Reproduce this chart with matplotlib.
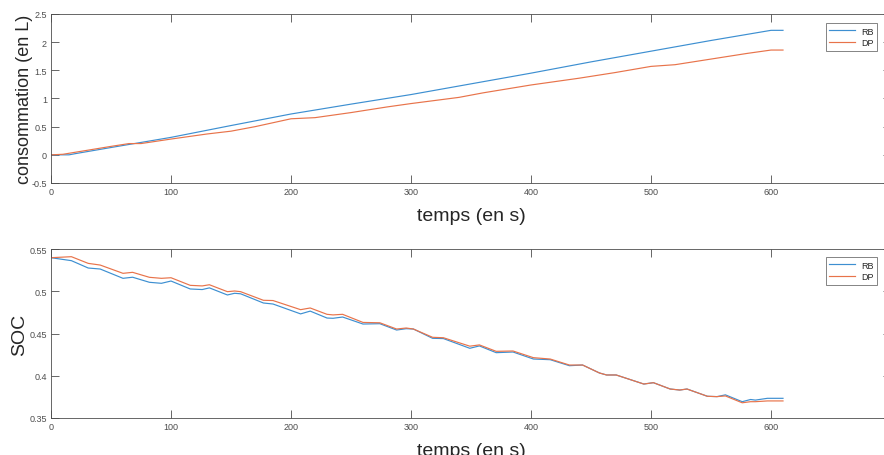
import numpy as np
import matplotlib
matplotlib.use('Agg')
import matplotlib.pyplot as plt
import matplotlib.ticker as mticker

plt.rcParams['font.family'] = ['Liberation Sans', 'DejaVu Sans']
plt.rcParams['axes.unicode_minus'] = False

# consommation (en L)
t_rb_c = [0, 10, 15, 20, 50, 100, 150, 200, 250, 300, 350, 400, 450, 500, 550, 600, 610]
rb_c = [0, 0, 0.0, 0.02, 0.13, 0.31, 0.52, 0.725, 0.9, 1.07, 1.26, 1.45, 1.65, 1.84, 2.03, 2.21, 2.21]
t_dp_c = [0, 10, 30, 50, 65, 75, 100, 130, 150, 170, 200, 220, 250, 280, 300, 340, 360,
          400, 440, 470, 500, 520, 550, 580, 600, 610]
dp_c = [0, 0.01, 0.08, 0.15, 0.2, 0.2, 0.28, 0.37, 0.42, 0.5, 0.64, 0.66, 0.75, 0.85, 0.91,
        1.02, 1.1, 1.24, 1.36, 1.46, 1.57, 1.6, 1.7, 1.8, 1.86, 1.86]

# SOC
t_soc = [0, 17, 31, 41, 60, 68, 82, 92, 100, 116, 126, 132, 147, 153, 158, 177, 185, 208,
         216, 230, 235, 243, 260, 274, 288, 296, 302, 318, 327, 349, 357, 371, 385, 402,
         416, 432, 443, 457, 463, 471, 494, 502, 516, 524, 530, 547, 555, 562, 576, 583,
         587, 597, 606, 610]
rb_soc = [0.5397, 0.5362, 0.5275, 0.5263, 0.5153, 0.5166, 0.5106, 0.5094, 0.5121, 0.5027,
          0.502, 0.504, 0.4956, 0.4976, 0.497, 0.4861, 0.4849, 0.4732, 0.4765, 0.4683,
          0.468, 0.4695, 0.4612, 0.4616, 0.4541, 0.4557, 0.4553, 0.4443, 0.444, 0.4325,
          0.4353, 0.4273, 0.4281, 0.4198, 0.419, 0.4119, 0.4127, 0.4033, 0.4009, 0.4009,
          0.3902, 0.3918, 0.3843, 0.3831, 0.3843, 0.3757, 0.3753, 0.3774, 0.3693, 0.3719,
          0.3712, 0.3733, 0.3733, 0.3733]
dp_soc = [0.5397, 0.5409, 0.533, 0.531, 0.5212, 0.5224, 0.5165, 0.5153, 0.516, 0.507,
          0.5063, 0.5077, 0.4995, 0.5003, 0.4995, 0.4893, 0.489, 0.4782, 0.4802, 0.4727,
          0.472, 0.4727, 0.4631, 0.4627, 0.4553, 0.4565, 0.4553, 0.4455, 0.445, 0.435,
          0.4365, 0.4289, 0.4293, 0.4214, 0.4198, 0.4127, 0.4127, 0.4033, 0.4009, 0.4009,
          0.3902, 0.3918, 0.3843, 0.3831, 0.3843, 0.3757, 0.3753, 0.3761, 0.368, 0.3693,
          0.3693, 0.3702, 0.3702, 0.3702]

c_rb = '#3d8fd1'
c_dp = '#e8734a'
gris = (0.3, 0.3, 0.3)
texte = (0.15, 0.15, 0.15)

W, H = 884, 456
fig = plt.figure(figsize=(W / 100, H / 100), dpi=100)
ax1 = fig.add_axes([51 / W, 1 - 184 / H, 840 / W, 169 / H])
ax2 = fig.add_axes([51 / W, 1 - 419 / H, 840 / W, 169 / H])

ax1.plot(t_rb_c, rb_c, color=c_rb, lw=0.85, label='RB')
ax1.plot(t_dp_c, dp_c, color=c_dp, lw=0.85, label='DP')
ax1.set_ylim(-0.5, 2.5)
ax1.set_yticks(np.arange(-0.5, 2.51, 0.5))
ax1.set_ylabel('consommation (en L)', fontsize=13, color=texte)
ax1.yaxis.set_label_coords((33 - 51) / 840, 0.5)

ax2.plot(t_soc, rb_soc, color=c_rb, lw=0.85, label='RB')
ax2.plot(t_soc, dp_soc, color=c_dp, lw=0.85, label='DP')
ax2.set_ylim(0.35, 0.55)
ax2.set_yticks([0.35, 0.4, 0.45, 0.5, 0.55])
ax2.set_ylabel('SOC', fontsize=14, color=texte)
ax2.yaxis.set_label_coords((28 - 51) / 840, 0.5)

for ax, leg_top in [(ax1, 24), (ax2, 258)]:
    ax.set_xlim(0, 700)
    ax.set_xticks(range(0, 701, 100))
    ax.xaxis.set_major_formatter(mticker.FormatStrFormatter('%g'))
    ax.yaxis.set_major_formatter(mticker.FormatStrFormatter('%g'))
    ax.set_xlabel('temps (en s)', fontsize=14, color=texte, labelpad=8)
    ax.tick_params(direction='in', length=6, width=0.6, top=True, right=True,
                   labelsize=6.5, colors=gris, labelcolor=gris, pad=3)
    for s in ax.spines.values():
        s.set_color(gris)
        s.set_linewidth(0.6)
    leg = ax.legend(loc='upper right', bbox_to_anchor=(877 / W, 1 - leg_top / H),
                    bbox_transform=fig.transFigure, fontsize=6.5, frameon=True,
                    fancybox=False, edgecolor=gris, handlelength=2.9,
                    borderpad=0.4, labelspacing=0.3, handletextpad=0.6, borderaxespad=0)
    leg.get_frame().set_linewidth(0.6)
    for txt in leg.get_texts():
        txt.set_color(texte)

fig.savefig('out.png', dpi=100)
